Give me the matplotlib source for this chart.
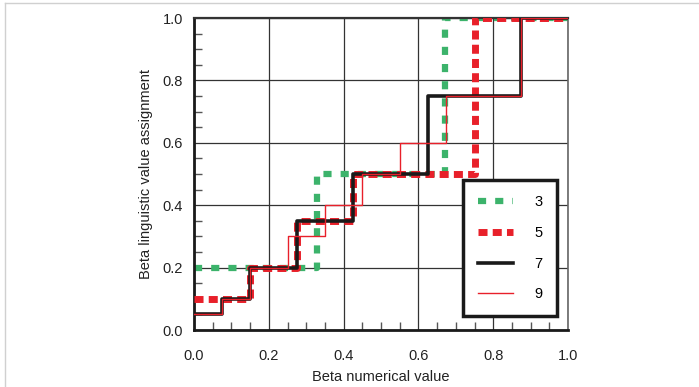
import numpy as np
import matplotlib
matplotlib.use('Agg')
import matplotlib.pyplot as plt
from matplotlib.lines import Line2D

plt.rcParams['font.family'] = ['Liberation Sans', 'DejaVu Sans']

# ---- step data: breakpoints (x) and levels (y) per number of linguistic values ----
x3 = [0.0, 0.33, 0.67, 1.0]
y3 = [0.2, 0.5, 1.0]

x5 = [0.0, 0.15, 0.275, 0.425, 0.75, 1.0]
y5 = [0.1, 0.2, 0.35, 0.5, 1.0]

x7 = [0.0, 0.075, 0.15, 0.275, 0.425, 0.625, 0.875, 1.0]
y7 = [0.05, 0.1, 0.2, 0.35, 0.5, 0.75, 1.0]

x9 = [0.0, 0.075, 0.15, 0.25, 0.35, 0.45, 0.55, 0.675, 0.875, 1.0]
y9 = [0.05, 0.1, 0.2, 0.3, 0.4, 0.5, 0.6, 0.75, 1.0]

labels = ['3', '5', '7', '9']
major_ticks = [0.0, 0.2, 0.4, 0.6, 0.8, 1.0]
tick_labels = ['0.0', '0.2', '0.4', '0.6', '0.8', '1.0']

GREEN = '#3cb36b'
RED = '#e8202a'
BLACK = '#1a1a1a'

GREEN_DASH = (1.3, 1.45)
RED_DASH = (1.3, 0.75)


def stairs(xs, ys):
    # extend last level so steps reach the right edge
    return np.array(xs), np.array(list(ys) + [ys[-1]])


W, H = 699, 387
fig = plt.figure(figsize=(W / 100, H / 100), dpi=100)
fig.patch.set_facecolor('white')
ax = fig.add_axes([194 / W, 1 - 330 / H, (568 - 194) / W, (330 - 18) / H])

xs, ys = stairs(x3, y3)
ax.step(xs, ys, where='post', color=GREEN, lw=4.5, dashes=GREEN_DASH,
        dash_capstyle='butt', zorder=2)
xs, ys = stairs(x5, y5)
ax.step(xs, ys, where='post', color=RED, lw=5, dashes=RED_DASH,
        dash_capstyle='butt', zorder=3)
xs, ys = stairs(x7, y7)
ax.step(xs, ys, where='post', color=BLACK, lw=2.6, zorder=4)
xs, ys = stairs(x9, y9)
ax.step(xs, ys, where='post', color=RED, lw=1.0, zorder=5)

ax.set_xlim(0, 1)
ax.set_ylim(0, 1)
ax.set_xticks(major_ticks, tick_labels)
ax.set_yticks(major_ticks, tick_labels)
ax.set_xticks(np.arange(0.05, 1.0, 0.05), minor=True)
ax.set_yticks(np.arange(0.05, 1.0, 0.05), minor=True)
ax.grid(True, which='major', color='#333333', lw=0.9, zorder=1)
ax.tick_params(which='major', direction='in', length=0, labelsize=10.5,
               colors='#222222')
ax.tick_params(axis='x', which='major', pad=14)
ax.tick_params(axis='y', which='major', pad=8)
ax.tick_params(which='minor', direction='in', length=6, width=1.0,
               color='#555555')

ax.spines['left'].set_linewidth(2.0)
ax.spines['bottom'].set_linewidth(2.0)
ax.spines['left'].set_color(BLACK)
ax.spines['bottom'].set_color(BLACK)
ax.spines['top'].set_linewidth(1.6)
ax.spines['top'].set_color('#333333')
ax.spines['right'].set_linewidth(1.2)
ax.spines['right'].set_color('#666666')

ax.set_xlabel('Beta numerical value', fontsize=10.5, labelpad=5, color='#222222')
ax.set_ylabel('Beta linguistic value assignment', fontsize=10.5, labelpad=7,
              color='#222222')

handles = [
    Line2D([], [], color=GREEN, lw=4.5, dashes=GREEN_DASH, dash_capstyle='butt'),
    Line2D([], [], color=RED, lw=5, dashes=RED_DASH, dash_capstyle='butt'),
    Line2D([], [], color=BLACK, lw=2.6),
    Line2D([], [], color=RED, lw=1.0),
]
leg = ax.legend(handles, labels, loc='lower right',
                bbox_to_anchor=(0.971, 0.045), fontsize=10.5,
                handlelength=2.4, handletextpad=1.5, labelspacing=1.15,
                borderpad=1.0, borderaxespad=0, fancybox=False,
                framealpha=1, edgecolor=BLACK)
leg.get_frame().set_linewidth(2.5)
leg.set_zorder(10)

# light page border on top and left
fig.add_artist(Line2D([5 / W, 1], [1 - 3 / H, 1 - 3 / H], color='#d0d0d0', lw=1,
                      transform=fig.transFigure))
fig.add_artist(Line2D([5 / W, 5 / W], [0, 1 - 3 / H], color='#d0d0d0', lw=1,
                      transform=fig.transFigure))

fig.savefig('out.png', dpi=100, facecolor='white')
